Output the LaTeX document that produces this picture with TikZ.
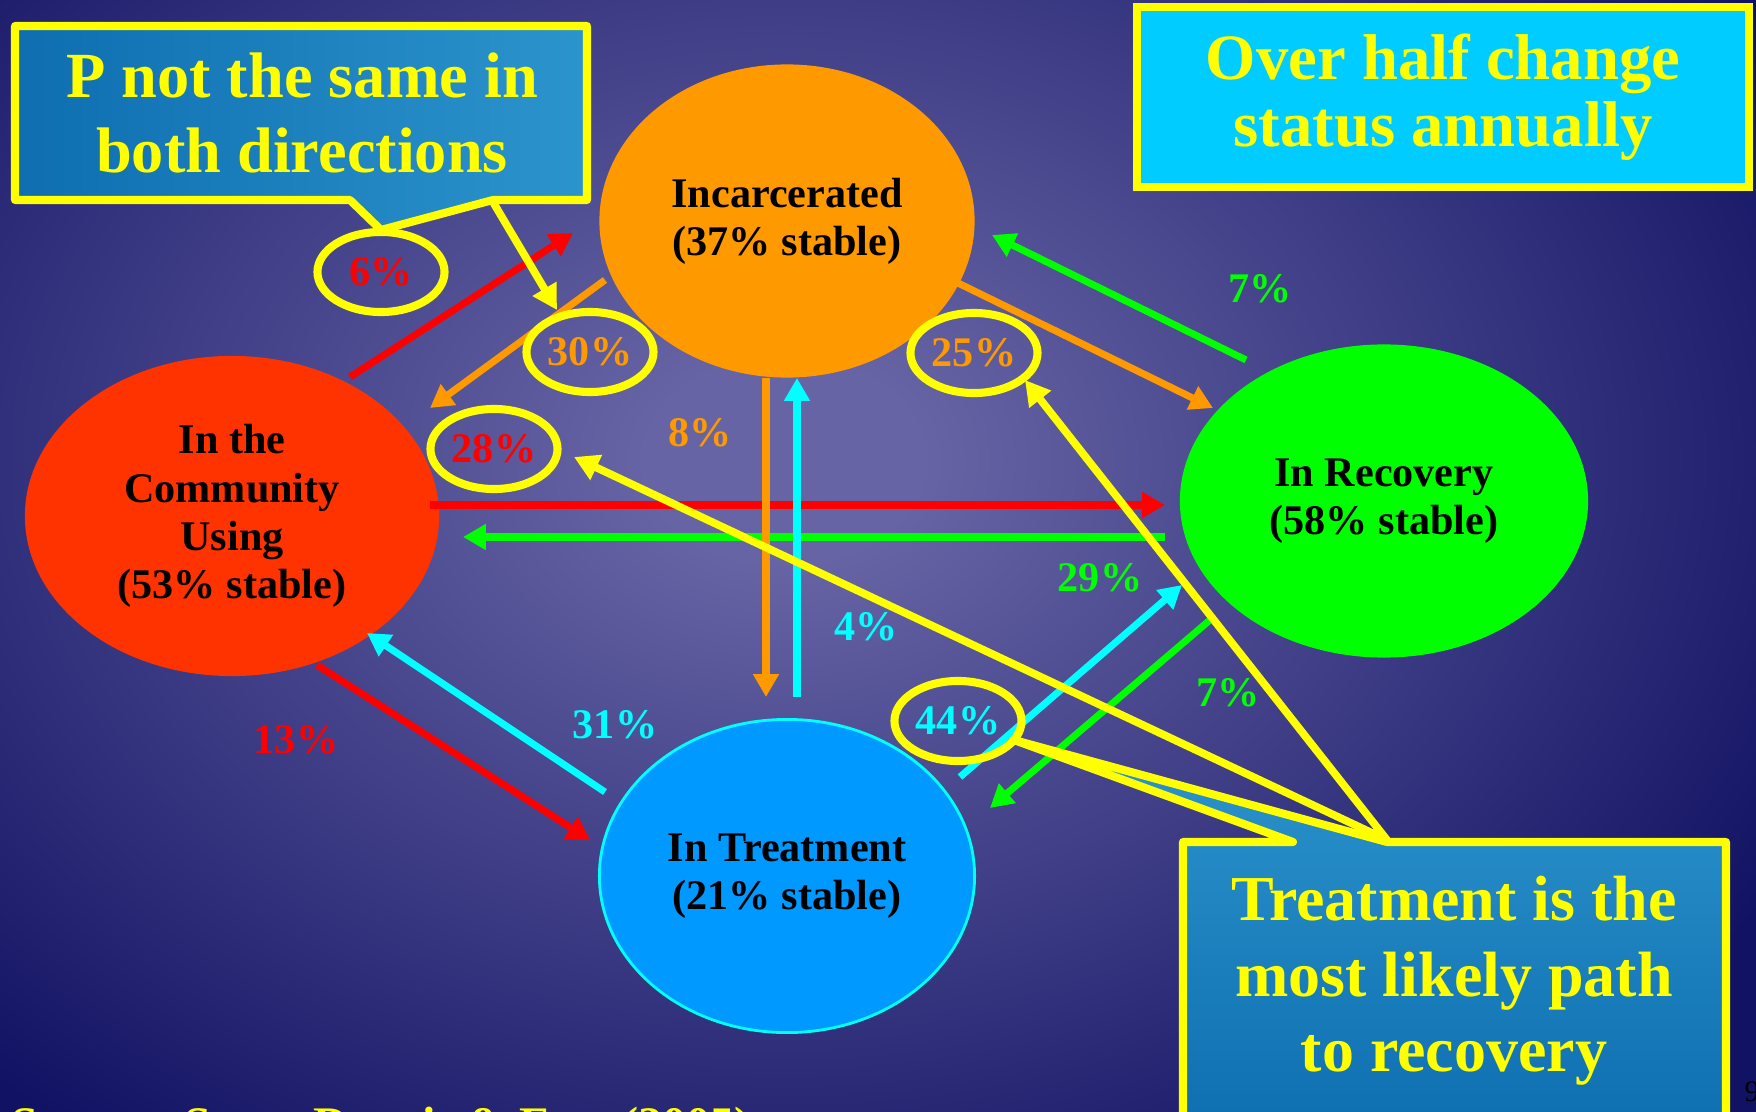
\documentclass[tikz,border=0pt]{standalone}
\usepackage{fontspec}
\setmainfont{Liberation Serif}
\usetikzlibrary{shapes.geometric,arrows.meta}

\definecolor{bgin}{RGB}{102,100,164}
\definecolor{bgout}{RGB}{18,18,100}
\definecolor{incor}{RGB}{255,153,0}
\definecolor{comred}{RGB}{255,51,0}
\definecolor{recgr}{RGB}{0,255,0}
\definecolor{trtbl}{RGB}{0,153,255}
\definecolor{aqua}{RGB}{0,255,255}
\definecolor{hired}{RGB}{255,0,0}
\definecolor{hiyel}{RGB}{255,255,0}
\definecolor{boxdk}{RGB}{14,110,176}
\definecolor{boxlt}{RGB}{44,148,204}
\definecolor{skybx}{RGB}{0,204,255}

\pgfdeclareradialshading{slidebg}{\pgfpoint{0bp}{0bp}}{color(0bp)=(bgin); color(3bp)=(bgin); color(25bp)=(bgout); color(50bp)=(bgout)}

\begin{document}
\begin{tikzpicture}[x=0.01cm,y=-0.01cm,
    state/.style={ellipse,inner sep=0pt,align=center,font=\bfseries\fontsize{12}{13.7}\selectfont},
    flow/.style={line width=2pt,-{Triangle[length=6.5pt,width=7pt]}},
    pct/.style={font=\bfseries\fontsize{12}{14}\selectfont},
    ring/.style={ellipse,draw=hiyel,line width=2.3pt,minimum width=1.27cm,minimum height=0.8cm,inner sep=0pt,font=\bfseries\fontsize{12}{14}\selectfont},
    pointer/.style={draw=hiyel,line width=2.2pt,-{Triangle[length=7pt,width=7.5pt]}},
    callout/.style={draw=hiyel,line width=2.3pt,line join=round},
    bigtext/.style={text=hiyel,align=center,font=\bfseries\fontsize{18.2}{21.5}\selectfont}]
    \useasboundingbox (0,0) rectangle (1756,1112);
    \begin{scope}
        \clip (0,0) rectangle (1756,1112);
        \fill[bgout] (0,0) rectangle (1756,1112);
        \shade[shading=slidebg] (-366,-390) rectangle (1934,1310);
    \end{scope}
    % the four states
    \node[state,fill=incor,minimum width=3.75cm,minimum height=3.13cm] (inc) at (787,221) {Incarcerated\\(37\% stable)};
    \node[state,fill=comred,minimum width=4.14cm,minimum height=3.2cm] (com) at (232,516) {In the\\Community\\Using\\(53\% stable)};
    \node[state,fill=recgr,minimum width=4.08cm,minimum height=3.13cm] (rec) at (1384,501) {In Recovery\\(58\% stable)};
    \node[state,fill=trtbl,draw=aqua,line width=0.8pt,minimum width=3.75cm,minimum height=3.13cm] (trt) at (787,876) {In Treatment\\(21\% stable)};
    % transitions
    \coordinate (ci0) at (350,377);  \coordinate (ci1) at (573,233);
    \coordinate (ic0) at (605,280);  \coordinate (ic1) at (430,408);
    \coordinate (ir0) at (958,283);  \coordinate (ir1) at (1213,408);
    \coordinate (ri0) at (1246,360); \coordinate (ri1) at (992,235);
    \coordinate (cr0) at (430,505);  \coordinate (cr1) at (1165,505);
    \coordinate (rc0) at (1165,537); \coordinate (rc1) at (463,537);
    \coordinate (it0) at (766,378);  \coordinate (it1) at (766,697);
    \coordinate (ti0) at (797,697);  \coordinate (ti1) at (797,378);
    \coordinate (ct0) at (317,665);  \coordinate (ct1) at (590,840);
    \coordinate (tc0) at (605,792);  \coordinate (tc1) at (367,633);
    \coordinate (tr0) at (960,777);  \coordinate (tr1) at (1182,585);
    \coordinate (rt0) at (1210,620); \coordinate (rt1) at (990,808);
    \draw[flow,hired] (ci0) -- (ci1);
    \draw[flow,incor] (ic0) -- (ic1);
    \draw[flow,incor] (ir0) -- (ir1);
    \draw[flow,recgr] (ri0) -- (ri1);
    \draw[flow,hired] (cr0) -- (cr1);
    \draw[flow,recgr] (rc0) -- (rc1);
    \draw[flow,incor] (it0) -- (it1);
    \draw[flow,aqua] (ti0) -- (ti1);
    \draw[flow,hired] (ct0) -- (ct1);
    \draw[flow,aqua] (tc0) -- (tc1);
    \draw[flow,aqua] (tr0) -- (tr1);
    \draw[flow,recgr] (rt0) -- (rt1);
    \node[pct,text=incor] (p8) at (700,433) {8\%};
    \node[pct,text=recgr] (p7a) at (1260,289) {7\%};
    \node[pct,text=recgr] (p29) at (1100,578) {29\%};
    \node[pct,text=recgr] (p7b) at (1228,693) {7\%};
    \node[pct,text=aqua] (p4) at (866,627) {4\%};
    \node[pct,text=aqua] (p31) at (615,725) {31\%};
    \node[pct,text=hired] (p13) at (296,740) {13\%};
    % callouts
    \path[callout,left color=boxdk,right color=boxlt] (15,26) -- (587,26) -- (587,200) -- (493,200) -- (381,230) -- (350,200) -- (15,200) -- cycle;
    \node[bigtext,font=\bfseries\fontsize{18.3}{21.3}\selectfont] (pnote) at (302,113) {P not the same in\\both directions};
    \path[callout,top color=boxlt,bottom color=boxdk] (1183,842) -- (1293,842) -- (1014,740) -- (1387,842) -- (1726,842) -- (1726,1140) -- (1183,1140) -- cycle;
    \node[bigtext] (tnote) at (1454,981) {Treatment is the\\most likely path\\to recovery};
    \node[bigtext,draw=hiyel,line width=2.3pt,fill=skybx,minimum width=6.11cm,minimum height=1.8cm,font=\bfseries\fontsize{18.4}{19.2}\selectfont] (half) at (1443,97) {Over half change\\status annually};
    % rings
    \node[ring,text=hired] (r6) at (381,272) {6\%};
    \node[ring,text=incor] (r30) at (590,352) {30\%};
    \node[ring,text=hired] (r28) at (494,449) {28\%};
    \node[ring,text=incor] (r25) at (974,353) {25\%};
    \node[ring,text=aqua] (r44) at (958,721) {44\%};
    \coordinate (pn) at (493,202);
    \coordinate (tn) at (1387,840);
    \coordinate (t30) at (557,310);
    \coordinate (t25) at (1025,380);
    \coordinate (t28) at (574,457);
    \draw[pointer] (pn) -- (t30);
    \draw[pointer] (tn) -- (t25);
    \draw[pointer] (tn) -- (t28);
    \node[anchor=base west,text=hiyel,inner sep=0pt,font=\bfseries\fontsize{13.7}{16}\selectfont] (src) at (11,1140) {Source: Scott, Dennis \& Foss (2005)};
    \node[anchor=west,inner sep=0pt,font=\fontsize{8.5}{10}\selectfont] (pg) at (1744,1092) {9};
\end{tikzpicture}
\end{document}
